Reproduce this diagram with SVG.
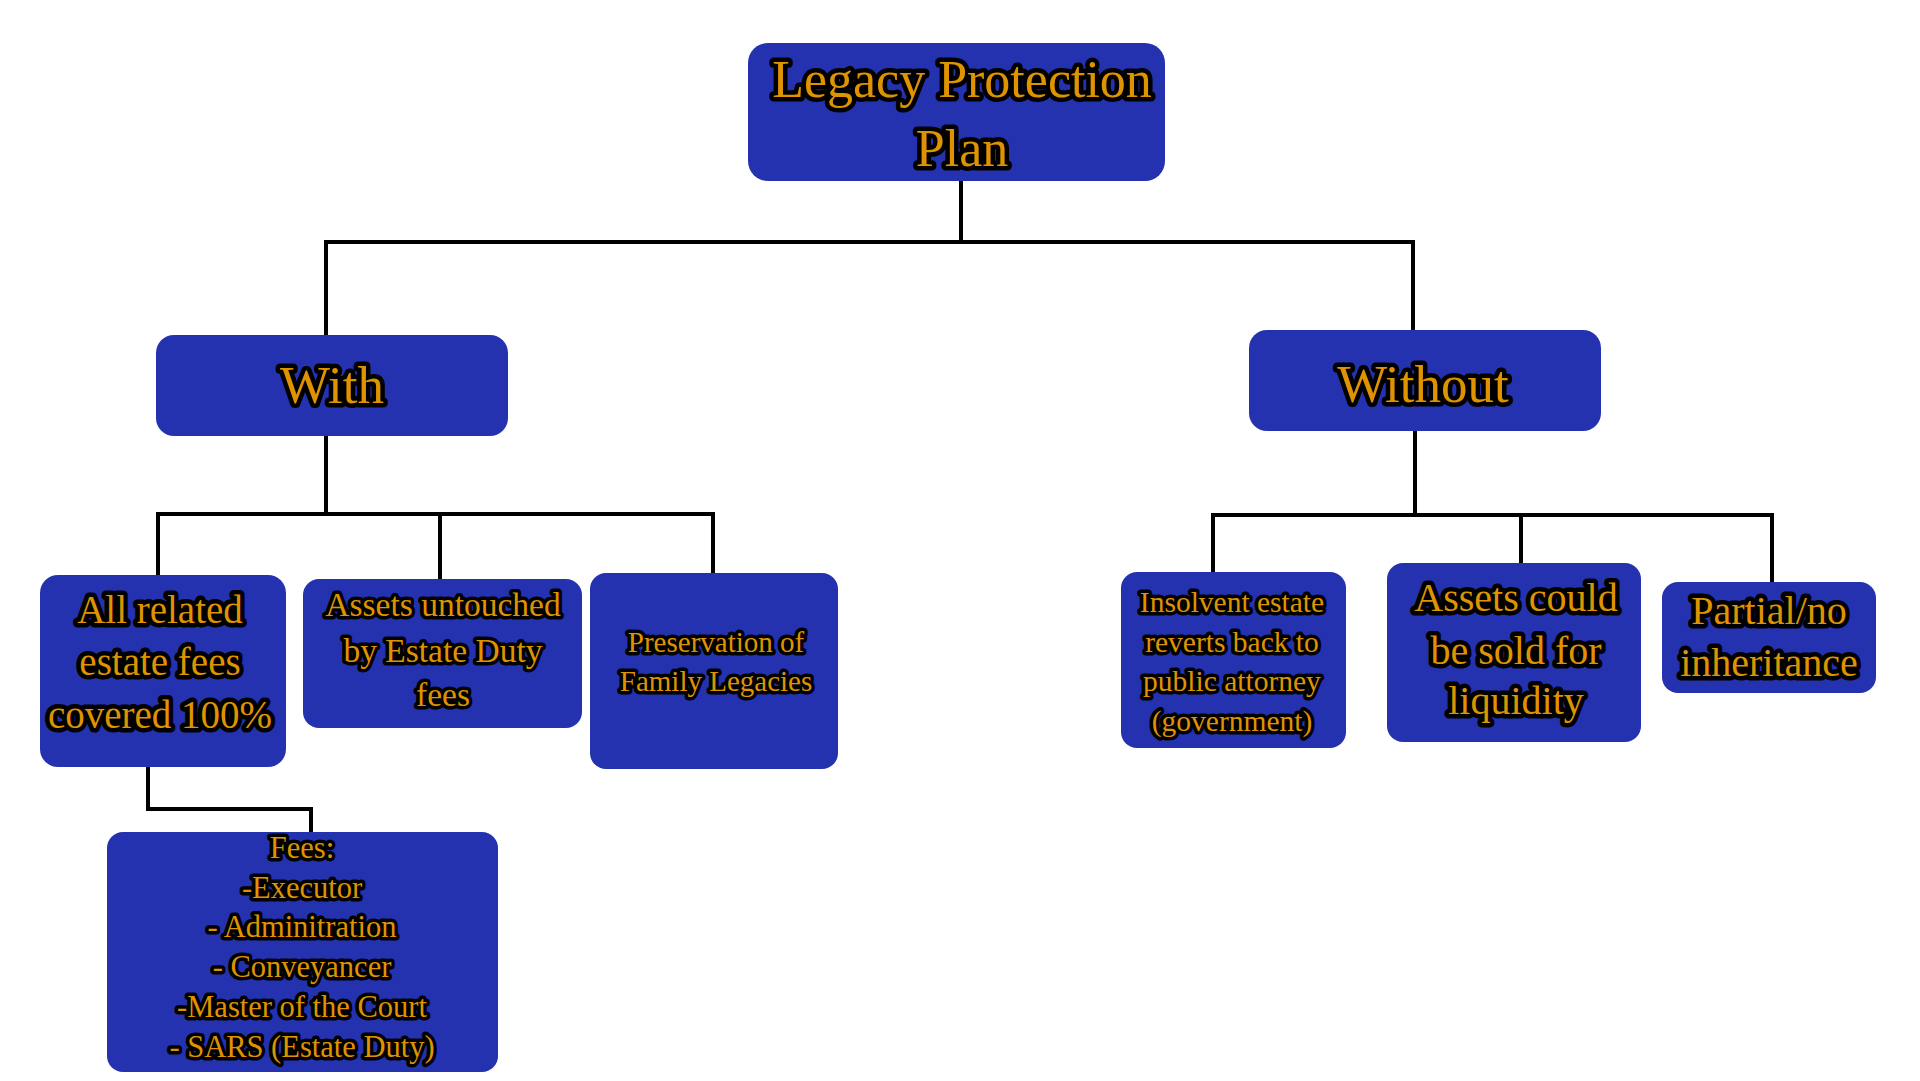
<svg xmlns="http://www.w3.org/2000/svg" width="1920" height="1081" viewBox="0 0 1920 1081">
<style>
.box{fill:#2532B0}
.t{font-family:"Liberation Serif","Times New Roman",serif;fill:#DF9300;stroke:#000;stroke-width:9;stroke-linejoin:round;paint-order:stroke fill;text-anchor:middle}
.s{stroke-width:7}
.c{fill:none;stroke:#000;stroke-width:4;stroke-linejoin:miter;stroke-linecap:square}
</style>
<rect width="1920" height="1081" fill="#fff"/>
<g id="connectors">
<path class="c" d="M961,181 V242 M326,335 V242 H1413 V330"/>
<path class="c" d="M326,436 V514 M158,575 V514 H713 V573 M440,514 V579"/>
<path class="c" d="M1415,431 V515 M1213,572 V515 H1772 V582 M1521,515 V563"/>
<path class="c" d="M148,767 V809 H311 V832"/>
</g>
<g id="root">
<rect class="box" x="748" y="43" width="417" height="138" rx="20"/>
<text class="t" font-size="52"><tspan x="962" y="97">Legacy Protection</tspan><tspan x="962" y="166">Plan</tspan></text>
</g>
<g id="with">
<rect class="box" x="156" y="335" width="352" height="101" rx="18"/>
<text class="t" font-size="53" x="332" y="403">With</text>
</g>
<g id="without">
<rect class="box" x="1249" y="330" width="352" height="101" rx="18"/>
<text class="t" font-size="53" x="1423" y="402">Without</text>
</g>
<g id="fees-covered">
<rect class="box" x="40" y="575" width="246" height="192" rx="18"/>
<text class="t" font-size="39"><tspan x="160" y="623">All related</tspan><tspan x="160" y="675">estate fees</tspan><tspan x="160" y="728">covered 100%</tspan></text>
</g>
<g id="assets-untouched">
<rect class="box" x="303" y="579" width="279" height="149" rx="16"/>
<text class="t s" font-size="33.5"><tspan x="443" y="616">Assets untouched</tspan><tspan x="443" y="662">by Estate Duty</tspan><tspan x="443" y="706">fees</tspan></text>
</g>
<g id="preservation">
<rect class="box" x="590" y="573" width="248" height="196" rx="16"/>
<text class="t s" font-size="29"><tspan x="716" y="652">Preservation of</tspan><tspan x="716" y="691">Family Legacies</tspan></text>
</g>
<g id="fees-list">
<rect class="box" x="107" y="832" width="391" height="240" rx="16"/>
<text class="t s" font-size="30.5"><tspan x="302" y="858">Fees:</tspan><tspan x="302" y="898">-Executor</tspan><tspan x="302" y="937">- Adminitration</tspan><tspan x="302" y="977">- Conveyancer</tspan><tspan x="302" y="1017">-Master of the Court</tspan><tspan x="302" y="1057">- SARS (Estate Duty)</tspan></text>
</g>
<g id="insolvent">
<rect class="box" x="1121" y="572" width="225" height="176" rx="16"/>
<text class="t s" font-size="29.5"><tspan x="1232" y="612">Insolvent estate</tspan><tspan x="1232" y="652">reverts back to</tspan><tspan x="1232" y="691">public attorney</tspan><tspan x="1232" y="731">(government)</tspan></text>
</g>
<g id="assets-sold">
<rect class="box" x="1387" y="563" width="254" height="179" rx="16"/>
<text class="t" font-size="40"><tspan x="1516" y="611">Assets could</tspan><tspan x="1516" y="664">be sold for</tspan><tspan x="1516" y="714">liquidity</tspan></text>
</g>
<g id="partial">
<rect class="box" x="1662" y="582" width="214" height="111" rx="16"/>
<text class="t" font-size="40"><tspan x="1769" y="624">Partial/no</tspan><tspan x="1769" y="676">inheritance</tspan></text>
</g>
</svg>
